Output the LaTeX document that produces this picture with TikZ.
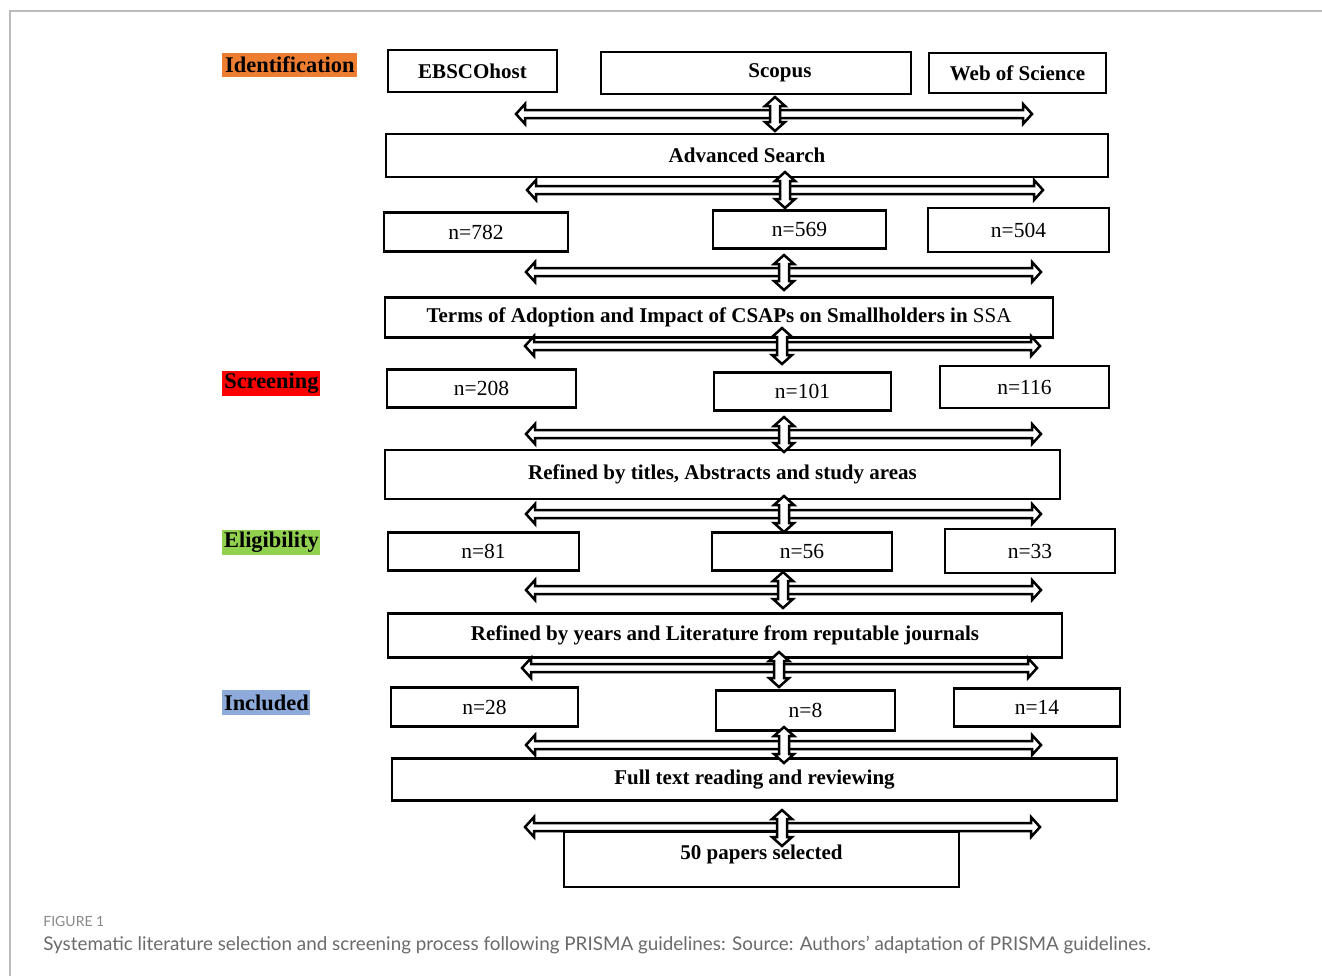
\documentclass[tikz,border=0pt]{standalone}
\usepackage{fontspec}
\setmainfont{Liberation Serif}
\newfontfamily\capfont{Lato}
\definecolor{idorange}{HTML}{ED7D31}
\definecolor{scrred}{HTML}{FF0000}
\definecolor{elgreen}{HTML}{92D050}
\definecolor{inblue}{HTML}{8EAADB}
\definecolor{framegray}{HTML}{BBBBBB}
\definecolor{capgray}{HTML}{6A6A6A}
\tikzset{
  arr/.style={draw=black, fill=white, line width=1.25pt, line join=miter},
  harrow/.pic={\filldraw[arr] (-#1,0) -- (-#1+9,-10) -- (-#1+9,-4) -- (#1-9,-4) -- (#1-9,-10) -- (#1,0) -- (#1-9,10) -- (#1-9,4) -- (-#1+9,4) -- (-#1+9,10) -- cycle;},
  varrow/.pic={\filldraw[arr] (0,-#1) -- (10,-#1+9) -- (5,-#1+9) -- (5,#1-9) -- (10,#1-9) -- (0,#1) -- (-10,#1-9) -- (-5,#1-9) -- (-5,-#1+9) -- (-10,-#1+9) -- cycle;},
  box/.style={draw=black, line width=1.25pt, fill=white, inner sep=0pt, font=\fontsize{10.5}{12}\selectfont\bfseries},
  nbox/.style={box, font=\fontsize{10.75}{12}\selectfont},
  stage/.style={anchor=west, inner sep=0pt, font=\fontsize{11.2}{13}\selectfont\bfseries},
}
\begin{document}
\begin{tikzpicture}[x=0.5pt, y=-0.5pt]
\useasboundingbox (0,0) rectangle (1322,976);
% frame
\draw[framegray, line width=1pt] (1322,11) -- (10,11) -- (10,976);

% stage labels
\node[stage, fill=idorange, minimum width=67.5pt, minimum height=12pt] (ident) at (222,65) {Identification};
\node[stage, fill=scrred, minimum width=49pt, minimum height=12.5pt] (screen) at (222,383.5) {Screening};
\node[stage, fill=elgreen, minimum width=49pt, minimum height=12.5pt] (elig) at (222,542.5) {Eligibility};
\node[stage, fill=inblue, minimum width=44pt, minimum height=12.5pt] (incl) at (222,702.5) {Included};

% boxes
\node[box, minimum width=84.5pt, minimum height=21pt] (ebsco) at (472.5,71) {EBSCOhost};
\node[box, minimum width=155pt, minimum height=21pt,
      label={[font=\fontsize{10.5}{12}\selectfont\bfseries, xshift=12pt]center:Scopus}] (scopus) at (756,73) {};
\node[box, minimum width=88.5pt, minimum height=20pt] (wos) at (1017.5,73) {Web of Science};
\node[box, minimum width=361pt, minimum height=21.5pt] (adv) at (747,155.5) {Advanced Search};

\node[nbox, minimum width=92pt, minimum height=19.5pt] (n782) at (476,232) {n=782};
\node[nbox, minimum width=86.5pt, minimum height=19pt] (n569) at (799.5,229.5) {n=569};
\node[nbox, minimum width=90.5pt, minimum height=22pt] (n504) at (1018.5,230) {n=504};

\node[box, minimum width=334pt, minimum height=20pt] (terms) at (719,317.5) {Terms of Adoption and Impact of CSAPs on Smallholders in \mdseries SSA};

\node[nbox, minimum width=94.5pt, minimum height=19pt] (n208) at (481.5,388.5) {n=208};
\node[nbox, minimum width=88.5pt, minimum height=19pt] (n101) at (802.5,391.5) {n=101};
\node[nbox, minimum width=84.5pt, minimum height=21pt] (n116) at (1024.5,387) {n=116};

\node[box, minimum width=337.5pt, minimum height=24.5pt] (titles) at (722.5,474.5) {Refined by titles, Abstracts and study areas};

\node[nbox, minimum width=95.5pt, minimum height=19pt] (n81) at (483.5,551.5) {n=81};
\node[nbox, minimum width=90pt, minimum height=19pt] (n56) at (802,551.5) {n=56};
\node[nbox, minimum width=85pt, minimum height=22pt] (n33) at (1030,551) {n=33};

\node[box, minimum width=337pt, minimum height=22pt] (years) at (725,635.5) {Refined by years and Literature from reputable journals};

\node[nbox, minimum width=93.5pt, minimum height=19.5pt] (n28) at (484.5,707) {n=28};
\node[nbox, minimum width=89.5pt, minimum height=20pt] (n8) at (805.5,710.5) {n=8};
\node[nbox, minimum width=83pt, minimum height=19pt] (n14) at (1037,707.5) {n=14};

\node[box, minimum width=362.5pt, minimum height=21pt] (full) at (754.5,779.5) {Full text reading and reviewing};

\node[box, minimum width=197.5pt, minimum height=27.5pt,
      label={[font=\fontsize{10.5}{12}\selectfont\bfseries, yshift=2.5pt]center:50 papers selected}] (papers) at (761.5,859.5) {};

% double arrows
\pic at (774,114) {harrow=258};   \pic at (775,114) {varrow=17};
\pic at (785,190) {harrow=258};   \pic at (785,190) {varrow=18};
\pic at (783.5,272) {harrow=257.5}; \pic at (784,272.5) {varrow=17.5};
\pic at (782.5,346) {harrow=257.5}; \pic at (782,346) {varrow=18};
\pic at (783.5,434) {harrow=257.5}; \pic at (784,434.5) {varrow=17.5};
\pic at (783.5,514) {harrow=257.5}; \pic at (784,514) {varrow=18};
\pic at (783.5,590) {harrow=257.5}; \pic at (783,590) {varrow=18};
\pic at (779.5,668) {harrow=257.5}; \pic at (779,669.5) {varrow=17.5};
\pic at (783.5,745) {harrow=257.5}; \pic at (784,745) {varrow=18};
\pic at (782.5,827) {harrow=257.5}; \pic at (782,828) {varrow=18};

% caption
\node[anchor=west, inner sep=0pt, text=capgray!80, font=\capfont\fontsize{7}{8}\selectfont] (figlab) at (43,921) {FIGURE 1};
\node[anchor=west, inner sep=0pt, text=capgray, font=\capfont\fontsize{9.42}{11}\selectfont] (caption) at (43,945) {Systematic literature selection and screening process following PRISMA guidelines: Source: Authors’ adaptation of PRISMA guidelines.};
\end{tikzpicture}
\end{document}
